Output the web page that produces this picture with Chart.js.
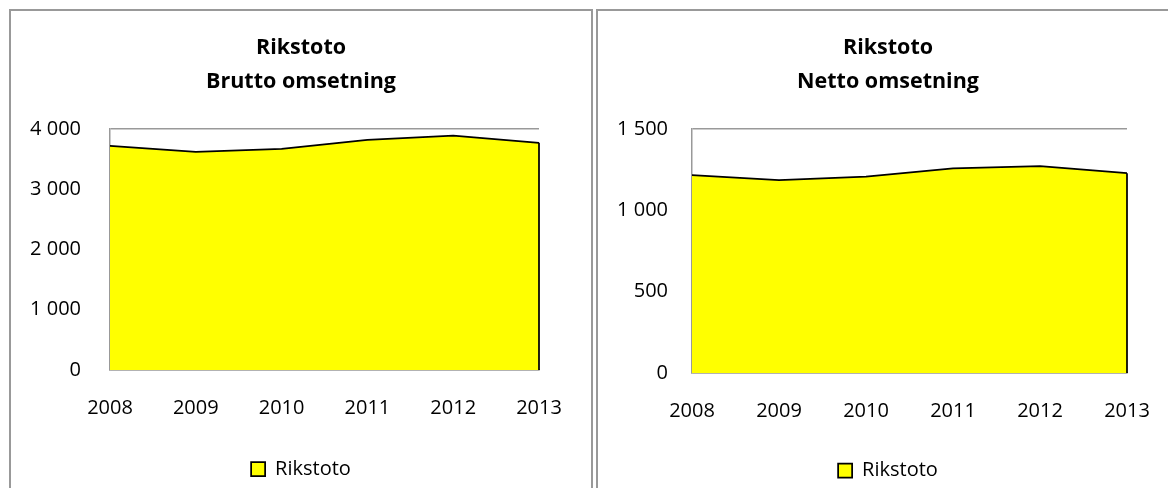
<!DOCTYPE html>
<html>
<head>
<meta charset="utf-8">
<script src="https://cdn.jsdelivr.net/npm/chart.js@4"></script>
<style>
  html, body { margin: 0; padding: 0; background: #fff; overflow: hidden; }
  .panel { position: absolute; top: 9px; height: 520px; border: 2px solid #999; box-sizing: border-box; background: #fff; }
  #p1 { left: 9px; width: 584px; }
  #p2 { left: 596px; width: 584px; }
  .box { position: relative; width: 100%; height: 100%; }
</style>
</head>
<body>
<div class="panel" id="p1"><div class="box"><canvas id="brutto"></canvas></div></div>
<div class="panel" id="p2"><div class="box"><canvas id="netto"></canvas></div></div>
<script>
// Rikstoto: brutto og netto omsetning 2008-2013
const years = ['2008', '2009', '2010', '2011', '2012', '2013'];
const bruttoValues = [3720, 3620, 3670, 3820, 3890, 3770];
const nettoValues = [1217, 1186, 1207, 1258, 1272, 1228];
const bruttoTicks = [0, 1000, 2000, 3000, 4000];
const nettoTicks = [0, 500, 1000, 1500];
const seriesName = 'Rikstoto';

const FONT = "'Open Sans', sans-serif";
const grey = '#999';

function thousands(v) { return String(v).replace(/\B(?=(\d{3})+(?!\d))/g, ' '); }

// black edge down the right side of the area, like Excel draws it
const rightEdge = {
  id: 'rightEdge',
  afterDatasetsDraw(chart) {
    const pts = chart.getDatasetMeta(0).data;
    const last = pts[pts.length - 1];
    const ctx = chart.ctx;
    ctx.save();
    ctx.strokeStyle = '#000';
    ctx.lineWidth = 1.75;
    ctx.beginPath();
    ctx.moveTo(last.x, last.y);
    ctx.lineTo(last.x, chart.scales.y.bottom);
    ctx.stroke();
    ctx.restore();
  }
};

// legend text sits 20px above (height - padBottom); legendPad then sets where the plot ends
function drawArea(id, subtitle, values, ticks, o) {
  new Chart(document.getElementById(id), {
    type: 'line',
    data: {
      labels: years,
      datasets: [{
        label: seriesName, data: values,
        backgroundColor: '#ffff00', borderColor: '#000', borderWidth: 1.75,
        fill: 'origin', pointRadius: 0, tension: 0
      }]
    },
    plugins: [rightEdge],
    options: {
      responsive: true, maintainAspectRatio: false, animation: false,
      layout: { padding: { top: 0, left: 0, right: 0, bottom: o.padBottom } },
      plugins: {
        title: {
          display: true, text: ['Rikstoto', subtitle], color: '#000',
          font: { family: FONT, size: 21.5, weight: 'bold', lineHeight: '34px' },
          padding: { top: 20, bottom: 30 }
        },
        legend: {
          position: 'bottom',
          labels: { color: '#000', font: { family: FONT, size: 20 }, boxWidth: 14, boxHeight: 14, padding: o.legendPad }
        },
        tooltip: { enabled: false }
      },
      scales: {
        x: {
          // invisible tick marks give the vertical gap without widening the side padding
          grid: { display: true, drawOnChartArea: false, drawTicks: true, tickLength: o.xGap, tickColor: 'rgba(0,0,0,0)' },
          border: { color: grey, width: 1.5 },
          ticks: { color: '#000', font: { family: FONT, size: 20 }, padding: 0, maxRotation: 0 }
        },
        y: {
          min: ticks[0], max: ticks[ticks.length - 1],
          afterBuildTicks: (s) => { s.ticks = ticks.map((v) => ({ value: v })); },
          afterFit: (s) => { s.width = o.left; },
          grid: { color: grey, lineWidth: 1.5, drawTicks: false },
          border: { color: grey, width: 1.5 },
          ticks: { color: '#000', font: { family: FONT, size: 20 }, padding: o.yPad, callback: (v) => thousands(v) }
        },
        yR: {
          position: 'right', display: true,
          grid: { display: false, drawTicks: false }, border: { display: false },
          ticks: { display: false },
          afterFit: (s) => { s.width = o.right; }
        }
      }
    }
  });
}

drawArea('brutto', 'Brutto omsetning', bruttoValues, bruttoTicks, { left: 99, right: 52, xGap: 26, yPad: 29, legendPad: 39, padBottom: 38 });
drawArea('netto', 'Netto omsetning', nettoValues, nettoTicks, { left: 94, right: 51, xGap: 26, yPad: 24, legendPad: 37.6, padBottom: 36.4 });
</script>
</body>
</html>
